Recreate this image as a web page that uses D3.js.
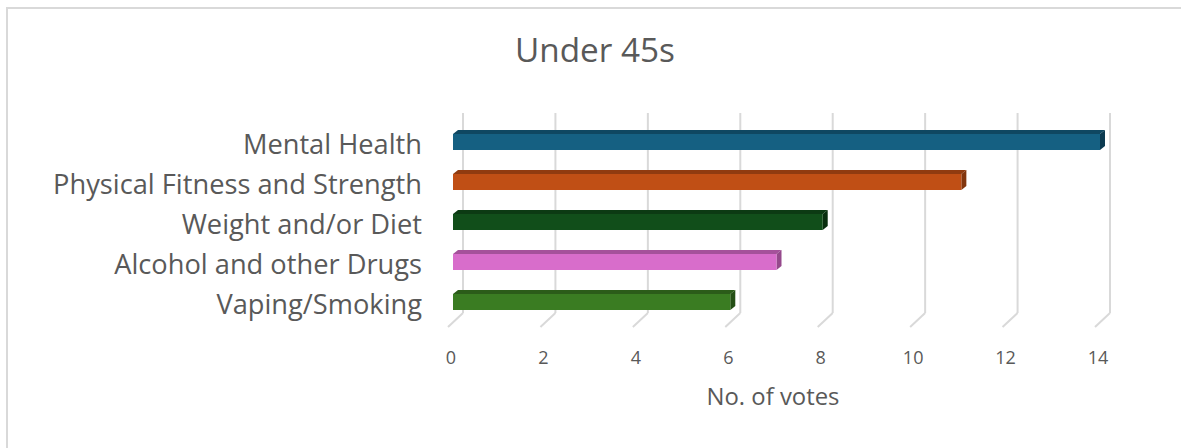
<!DOCTYPE html>
<html>
<head>
<meta charset="utf-8">
<script src="https://cdn.jsdelivr.net/npm/d3@7/dist/d3.min.js"></script>
<style>
html,body{margin:0;padding:0;background:#fff;}
svg{display:block;}
text{font-family:"Open Sans",Lato,sans-serif;fill:#595959;}
</style>
</head>
<body>
<svg id="chart" width="1181" height="448"></svg>
<script>
const categories = ["Mental Health","Physical Fitness and Strength","Weight and/or Diet","Alcohol and other Drugs","Vaping/Smoking"];
const values = [14, 11, 8, 7, 6];
const frontColors = ["#156082","#C04F15","#114E1A","#D86DCB","#3A7C22"];
const topColors   = ["#0F4761","#903B10","#0C3A13","#A5519B","#2B5C19"];
const sideColors  = ["#0B3A50","#82360E","#092F0F","#95498C","#244F15"];
const ticks = [0, 2, 4, 6, 8, 10, 12, 14];
const titleText = "Under 45s";
const axisTitle = "No. of votes";

const svg = d3.select("#chart");

svg.append("rect").attr("x",7).attr("y",8).attr("width",1300).attr("height",600)
  .attr("fill","none").attr("stroke","#d9d9d9").attr("stroke-width",2);

const xBack = d3.scaleLinear().domain([0,14]).range([463,1110]);
const depth = {dx:-15, dy:14};
const barOff = -10;
const xFront = v => xBack(v) + barOff;
const y = d3.scalePoint().domain(categories).range([122,322]).padding(0.5);
const barH = 16;
const wallTop = 113, wallBottom = 313;
const td = {dx:5, dy:-4};

const g = svg.append("g");
g.selectAll("line.grid").data(ticks).join("line")
  .attr("x1",d=>xBack(d)).attr("x2",d=>xBack(d))
  .attr("y1",wallTop).attr("y2",wallBottom)
  .attr("stroke","#d9d9d9").attr("stroke-width",2);
g.selectAll("line.floor").data(ticks).join("line")
  .attr("x1",d=>xBack(d)).attr("y1",wallBottom)
  .attr("x2",d=>xBack(d)+depth.dx).attr("y2",wallBottom+depth.dy)
  .attr("stroke","#d9d9d9").attr("stroke-width",2);

const bars = svg.append("g").selectAll("g.bar").data(categories).join("g");
bars.each(function(c,i){
  const sel = d3.select(this);
  const x0 = xFront(0), x1 = xFront(values[i]);
  const y0 = y(c) - barH/2, y1 = y(c) + barH/2;
  sel.append("polygon")
    .attr("points",[[x0,y0],[x0+td.dx,y0+td.dy],[x1+td.dx,y0+td.dy],[x1,y0]].map(p=>p.join(",")).join(" "))
    .attr("fill",topColors[i]);
  sel.append("polygon")
    .attr("points",[[x1,y0],[x1+td.dx,y0+td.dy],[x1+td.dx,y1+td.dy],[x1,y1]].map(p=>p.join(",")).join(" "))
    .attr("fill",sideColors[i]);
  sel.append("rect").attr("x",x0).attr("y",y0).attr("width",x1-x0).attr("height",barH)
    .attr("fill",frontColors[i]);
});

function fitSize(sel, base, target){
  const w = sel.node().getComputedTextLength();
  return base * target / w;
}

const labels = svg.append("g").selectAll("text").data(categories).join("text")
  .attr("x",422).attr("text-anchor","end").style("font-size","24px").text(d=>d);
const widest = labels.filter((d,i)=>i===1);
const ls = fitSize(widest, 24, 369);
labels.style("font-size", ls+"px").attr("y",d=>y(d)+ls*0.45);

svg.append("g").selectAll("text").data(ticks).join("text")
  .attr("x",d=>xBack(d)-12).attr("y",364)
  .attr("text-anchor","middle").style("font-size","18px").text(d=>d);

const at = svg.append("text").attr("x",773).attr("y",405).attr("text-anchor","middle")
  .style("font-size","21px").text(axisTitle);
at.style("font-size", fitSize(at,21,133)+"px");

const tt = svg.append("text").attr("x",595).attr("y",62).attr("text-anchor","middle")
  .style("font-size","32px").text(titleText);
tt.style("font-size", fitSize(tt,32,160)+"px");
</script>
</body>
</html>
